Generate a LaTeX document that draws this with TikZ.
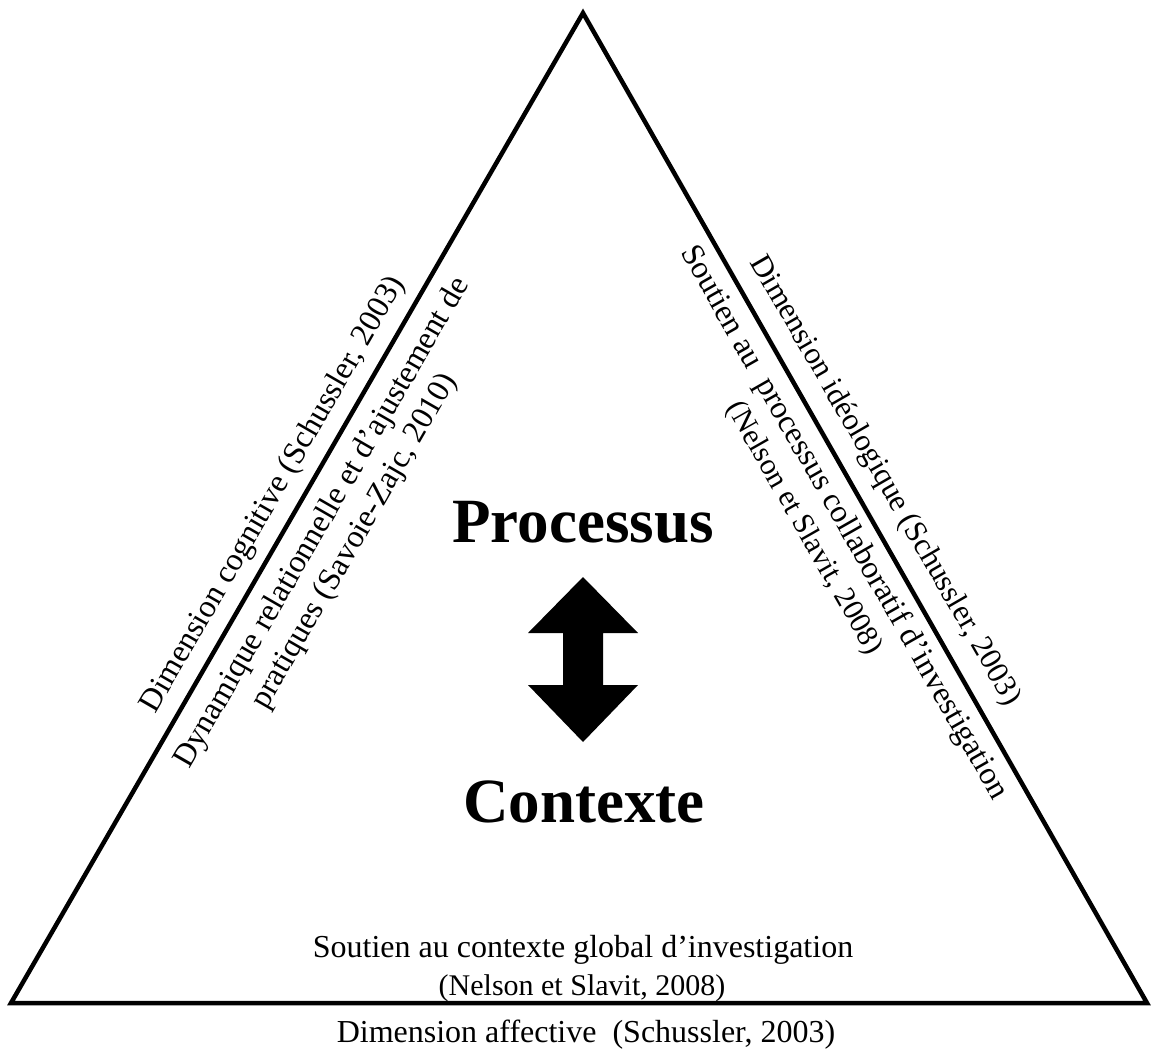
\documentclass[tikz,border=0pt]{standalone}
\usepackage{fontspec}
\setmainfont{Liberation Serif}
\usetikzlibrary{calc}
\newcommand{\citesize}{\fontsize{30}{37}\selectfont}
\begin{document}
\begin{tikzpicture}[x=1pt,y=1pt,
  edge/.style={line width=4.5pt, line join=miter},
  sidetext/.style={font=\fontsize{32}{37}\selectfont, inner sep=0pt, align=center},
  bigword/.style={font=\fontsize{63}{70}\selectfont\bfseries, inner sep=0pt, anchor=base},
  bigarrow/.style={fill=black, draw=none}]
\useasboundingbox[fill=white] (0,0) rectangle (1151,-1051);
% triangle
\coordinate (T) at (583,-13);
\coordinate (L) at (11,-1003);
\coordinate (R) at (1147,-1003);
\draw[edge] (T) -- (L) -- (R) -- cycle;
% double arrow
\fill[bigarrow] (583,-577) -- (528,-633) -- (563,-633) -- (563,-685) -- (528,-685)
  -- (583,-742) -- (638,-685) -- (603,-685) -- (603,-633) -- (638,-633) -- cycle;
% centre words
\node[bigword] (proc) at (583,-542) {Processus};
\node[bigword] (ctx) at (584,-822) {Contexte};
% left side
\node[sidetext, rotate=60, anchor=base] (cog) at ($(L)!0.5!(T)+(150:19)$)
  {Dimension cognitive (Schussler, 2003)};
\node[sidetext, rotate=60, anchor=north] (dyn) at ($(L)!0.5!(T)+(-30:15)$)
  {Dynamique relationnelle et d’ajustement de\\pratiques (Savoie-Zajc, 2010)};
% right side
\node[sidetext, font=\fontsize{31}{37}\selectfont, rotate=-60, anchor=base] (ideo)
  at ($(T)!0.488!(R)+(30:23)$)
  {Dimension idéologique (Schussler, 2003)};
\node[sidetext, rotate=-60.3, anchor=north] (sout) at ($(T)!0.502!(R)+(210:11)$)
  {Soutien au\ \ processus collaboratif d’investigation\\{\citesize(Nelson et Slavit, 2008)}\hspace*{30pt}};
% bottom
\node[sidetext, anchor=base] (glob) at (583,-957) {Soutien au contexte global d’investigation};
\node[sidetext, anchor=base, font=\citesize] (nel) at (582,-995) {(Nelson et Slavit, 2008)};
\node[sidetext, anchor=base] (aff) at (586,-1042) {Dimension affective\ \ (Schussler, 2003)};
\end{tikzpicture}
\end{document}
